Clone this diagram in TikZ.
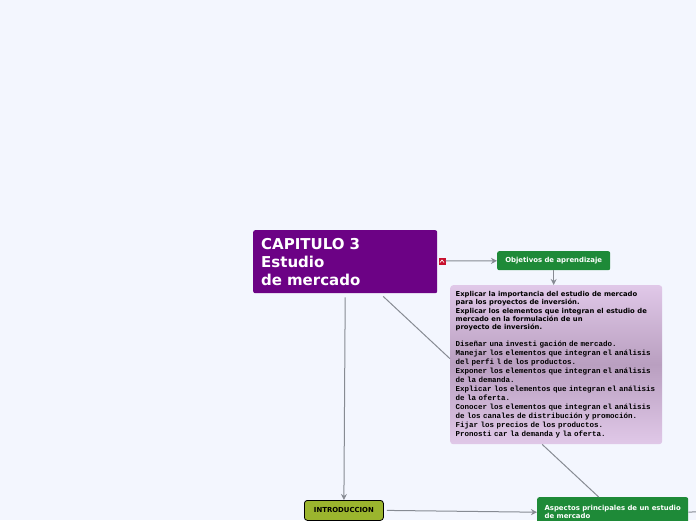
\documentclass[tikz,border=0pt]{standalone}
\usepackage{fontspec}
\setsansfont{DejaVu Sans}
\newfontfamily\typewriter{Liberation Mono}
\usepackage{xcolor}
\usetikzlibrary{arrows.meta, calc}
\definecolor{canvas}{HTML}{F3F6FE}
\definecolor{plum}{HTML}{6C0285}
\definecolor{leaf}{HTML}{1E8A38}
\definecolor{moss}{HTML}{9BB52E}
\definecolor{lilac}{HTML}{E0C8E8}
\definecolor{lilacdark}{HTML}{B99FC0}
\definecolor{wire}{HTML}{878B93}
\definecolor{alert}{HTML}{C8102E}
\tikzstyle{chapter} = [rectangle, rounded corners=2pt, fill=plum, text=white,
                       font=\sffamily\bfseries\fontsize{15}{18}\selectfont,
                       minimum width=184pt, minimum height=63pt, text width=168pt,
                       inner sep=0pt, align=left, anchor=north west]
\tikzstyle{stage} = [rectangle, rounded corners=2pt, fill=leaf, text=white,
                     font=\sffamily\bfseries\fontsize{6.9}{8.3}\selectfont,
                     inner sep=0pt, anchor=north west]
\tikzstyle{goals} = [rectangle, rounded corners=3pt, top color=lilac, bottom color=lilac,
                     middle color=lilacdark, minimum width=212pt, minimum height=159pt,
                     text width=201pt, inner xsep=5.5pt, inner ysep=5pt, align=left,
                     font=\typewriter\bfseries\fontsize{7.5}{9}\selectfont, anchor=north west]
\tikzstyle{intro} = [rectangle, rounded corners=3pt, fill=moss, draw=black, line width=0.8pt,
                     font=\sffamily\bfseries\fontsize{6.9}{8.3}\selectfont,
                     minimum width=79pt, minimum height=20pt, inner sep=0pt, anchor=north west]
\tikzstyle{arrow} = [-{Stealth[length=6pt, width=6pt]}, draw=wire, line width=1pt]
\tikzstyle{link} = [draw=wire, line width=1pt]
\begin{document}
\begin{tikzpicture}[x=1pt, y=-1pt]
    \useasboundingbox (0,0) rectangle (696,520);
    \clip (0,0) rectangle (696,520);
    \fill[canvas] (0,0) rectangle (696,520);

    \node[chapter] (cap) at (253,230) {CAPITULO 3\\Estudio\\de mercado};
    \node[fill=alert, minimum size=7pt, inner sep=0pt] (toggle) at (442,261) {};
    \draw[white, line width=0.7pt] ($(toggle)+(-2,1.5)$) -- ($(toggle)+(0,-1)$) -- ($(toggle)+(2,1.5)$);

    \node[stage, minimum width=113pt, minimum height=19pt] (obj) at (497,251) {Objetivos de aprendizaje};

    \node[goals] (list) at (450,285) {{\sffamily\bfseries\fontsize{6.8}{8.3}\selectfont
        Explicar la importancia del estudio de mercado\\
        para los proyectos de inversión.\\
        Explicar los elementos que integran el estudio de\\
        mercado en la formulación de un\\
        proyecto de inversión.\par}\vspace{8pt}
        Diseñar una investi gación de mercado.\\
        Manejar los elementos que integran el análisis\\
        del perfi l de los productos.\\
        Exponer los elementos que integran el análisis\\
        de la demanda.\\
        Explicar los elementos que integran el análisis\\
        de la oferta.\\
        Conocer los elementos que integran el análisis\\
        de los canales de distribución y promoción.\\
        Fijar los precios de los productos.\\
        Pronosti car la demanda y la oferta.};

    \node[intro] (start) at (304,500) {INTRODUCCION};
    \node[stage, minimum width=151pt, minimum height=30pt, align=left] (asp) at (537,497)
          {Aspectos principales de un estudio\\de mercado};
    \coordinate (offpage) at (710,511);

    \draw[arrow] (toggle) -- (obj);
    \draw[arrow] (obj.south) -- (obj.south |- list.north);
    \draw[link] ($(cap.south)+(38,3)$) -- ($(list.west)+(0,-6)$);
    \draw[link] ($(list.south)+(-14,0)$) -- ($(asp.north)+(-14,0)$);
    \draw[arrow] ($(cap.south)+(0,4)$) -- (start.north);
    \draw[arrow] ($(start.east)+(3,0)$) -- (asp.west);
    \draw[link] (asp.east) -- (offpage);
\end{tikzpicture}
\end{document}
